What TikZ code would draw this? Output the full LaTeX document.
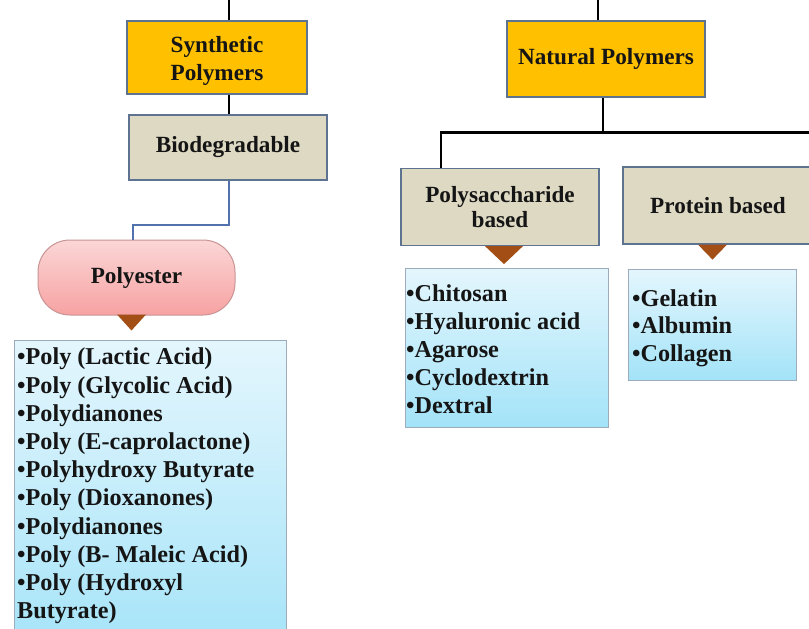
\documentclass[tikz,border=0pt]{standalone}
\usepackage{fontspec}
\setmainfont{Liberation Serif}
\usetikzlibrary{calc}
\definecolor{gold}{HTML}{FFC000}
\definecolor{beige}{HTML}{DDD9C3}
\definecolor{edge}{HTML}{5E7390}
\definecolor{brownish}{HTML}{A24E14}
\definecolor{lbtop}{HTML}{E4F6FD}
\definecolor{lbbot}{HTML}{A3E3F8}
\definecolor{pktop}{HTML}{FBD6D6}
\definecolor{pkbot}{HTML}{F7A2A2}
\definecolor{pkedge}{HTML}{C99494}
\definecolor{blueline}{HTML}{5272AE}
\definecolor{ink}{HTML}{151515}
\tikzset{
  base/.style={font=\fontsize{23.2}{26}\selectfont\bfseries, text=ink, align=center, inner sep=0pt},
  topbox/.style={base, draw=edge, line width=1.2pt, fill=gold},
  midbox/.style={base, draw=edge, line width=1.2pt, fill=beige},
  pillbox/.style={base, draw=pkedge, line width=1pt, top color=pktop, bottom color=pkbot, rounded corners=32pt},
  listbox/.style={draw=edge!60, line width=0.8pt, top color=lbtop, bottom color=lbbot, inner sep=0pt},
  listtext/.style={text=ink, align=left, inner sep=0pt},
  conn/.style={draw=black, line width=2.3pt},
  bconn/.style={draw=blueline, line width=2pt},
  tri/.style={fill=brownish, draw=none}
}
\begin{document}
\begin{tikzpicture}[x=1pt,y=-1pt]
\useasboundingbox (0,0) rectangle (809,629);
\clip (0,0) rectangle (809,629);
\fill[white] (0,0) rectangle (809,629);

% boxes
\node[topbox, minimum width=180pt, minimum height=73pt, font=\fontsize{23.2}{28}\selectfont\bfseries] (syn) at (217,57.5) {\rule{0pt}{0pt}\\[-4pt]Synthetic\\Polymers};
\node[midbox, minimum width=198pt, minimum height=65pt] (bio) at (228,147.5) {Biodegradable};
\node[pillbox, minimum width=197pt, minimum height=75pt] (pe) at (136.5,277.5) {Polyester};
\node[listbox, minimum width=272pt, minimum height=320pt, anchor=north] (pel) at (150,340) {};

\node[topbox, minimum width=198pt, minimum height=76pt] (nat) at (606,59) {Natural Polymers};
\node[midbox, minimum width=198pt, minimum height=77pt, font=\fontsize{23.2}{25}\selectfont\bfseries] (ps) at (500,207) {Polysaccharide\\based};
\node[midbox, minimum width=190pt, minimum height=77pt] (pr) at (718,205.5) {Protein based};
\node[listbox, minimum width=203pt, minimum height=159pt] (psl) at (506.5,347.5) {};
\node[listbox, minimum width=168pt, minimum height=111pt] (prl) at (712,324.5) {};

% list texts
\node[listtext, anchor=west, font=\fontsize{24.2}{28.2}\selectfont\bfseries] (pet) at (17,486) {%
•Poly (Lactic Acid)\\
•Poly (Glycolic Acid)\\
•Polydianones\\
•Poly (E-caprolactone)\\
•Polyhydroxy Butyrate\\
•Poly (Dioxanones)\\
•Polydianones\\
•Poly (B- Maleic Acid)\\
•Poly (Hydroxyl\\
Butyrate)};
\node[listtext, anchor=west, font=\fontsize{24.2}{28}\selectfont\bfseries] (pst) at (406,349) {%
•Chitosan\\
•Hyaluronic acid\\
•Agarose\\
•Cyclodextrin\\
•Dextral};
\node[listtext, anchor=west, font=\fontsize{24.2}{27.5}\selectfont\bfseries] (prt) at (632,328) {%
•Gelatin\\
•Albumin\\
•Collagen};

% triangles
\fill[tri] ($(pe.south)+(-19.5,-1)$) -- ($(pe.south)+(9.5,-1)$) -- ($(pe.south)+(-5,15)$) -- cycle;
\fill[tri] ($(ps.south)+(-15,0)$) -- ($(ps.south)+(23,0)$) -- ($(ps.south)+(4,18)$) -- cycle;
\fill[tri] ($(pr.south)+(-20,0)$) -- ($(pr.south)+(9,0)$) -- ($(pr.south)+(-5.5,15)$) -- cycle;

% connectors
\coordinate (st) at (229,0);
\draw[conn] (st) -- (st |- syn.north);
\draw[conn] (st |- syn.south) -- (st |- bio.north);
\coordinate (bj) at (133,225);
\draw[bconn] (st |- bio.south) |- (bj) -- (bj |- pe.north);

\coordinate (nt) at (598,0);
\draw[conn] (nt) -- (nt |- nat.north);
\coordinate (nd) at (603,0);
\coordinate (hl) at (441,132.5);
\coordinate (hr) at (815,132.5);
\draw[conn] (nd |- nat.south) -- (nd |- hl);
\draw[conn] (hr) -- (hl) -- (hl |- ps.north);
\end{tikzpicture}
\end{document}
